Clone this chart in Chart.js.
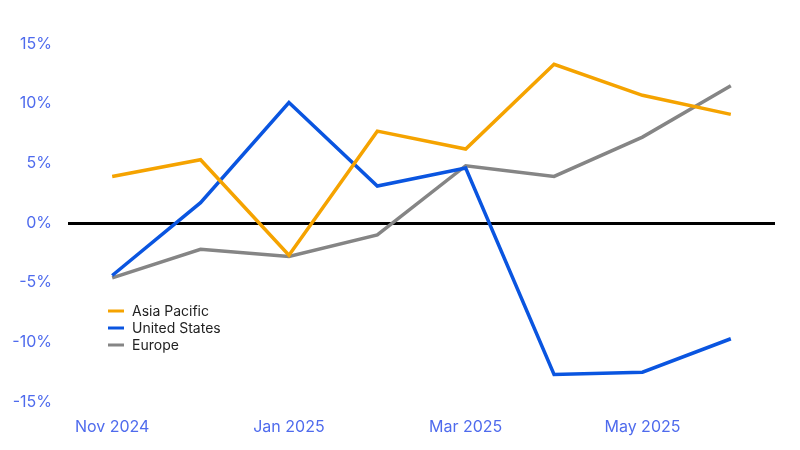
<!DOCTYPE html>
<html>
<head>
<meta charset="utf-8">
<script src="https://cdn.jsdelivr.net/npm/chart.js@4"></script>
<style>
  html, body { margin: 0; padding: 0; background: #fff; }
  #wrap { width: 800px; height: 450px; }
</style>
</head>
<body>
<div id="wrap"><canvas id="chart_regions"></canvas></div>
<script>
const months = ['Nov 2024', 'Dec 2024', 'Jan 2025', 'Feb 2025', 'Mar 2025', 'Apr 2025', 'May 2025', 'Jun 2025'];
const asiaPacific = [3.9, 5.3, -2.7, 7.7, 6.2, 13.3, 10.7, 9.1];
const unitedStates = [-4.4, 1.7, 10.1, 3.1, 4.6, -12.7, -12.5, -9.7];
const europe = [-4.6, -2.2, -2.8, -1.0, 4.8, 3.9, 7.2, 11.5];

const tickColor = '#4f6bed';

// legend sits inside the plot, lower left
const insideLegend = {
    id: 'insideLegend',
    afterDraw(chart) {
        const ctx = chart.ctx;
        ctx.save();
        ctx.font = '14px Inter, "Noto Sans", sans-serif';
        ctx.textBaseline = 'middle';
        chart.data.datasets.forEach((ds, i) => {
            const y = 311 + i * 17;
            ctx.strokeStyle = ds.borderColor;
            ctx.lineWidth = 3;
            ctx.beginPath();
            ctx.moveTo(108, y);
            ctx.lineTo(124, y);
            ctx.stroke();
            ctx.fillStyle = '#222';
            ctx.fillText(ds.label, 132, y + 1);
        });
        ctx.restore();
    }
};

new Chart(document.getElementById('chart_regions'), {
    type: 'line',
    data: {
        labels: months,
        datasets: [
            { label: 'Asia Pacific', data: asiaPacific, borderColor: '#f5a300', borderWidth: 3.5, pointRadius: 0, tension: 0 },
            { label: 'United States', data: unitedStates, borderColor: '#0a55e0', borderWidth: 3.5, pointRadius: 0, tension: 0 },
            { label: 'Europe', data: europe, borderColor: '#858585', borderWidth: 3.5, pointRadius: 0, tension: 0 }
        ]
    },
    options: {
        responsive: true,
        maintainAspectRatio: false,
        animation: false,
        layout: { padding: { top: 44, right: 25, left: 0, bottom: 0 } },
        scales: {
            x: {
                offset: true,
                grid: { display: false, drawTicks: false },
                border: { display: false },
                afterFit: (scale) => { scale.height = 48; },
                ticks: {
                    color: tickColor,
                    font: { size: 16, family: 'Inter, "Noto Sans", sans-serif' },
                    padding: 16,
                    autoSkip: false,
                    maxRotation: 0,
                    callback: function (value, index) {
                        return index % 2 === 0 ? this.getLabelForValue(value) : '';
                    }
                }
            },
            y: {
                min: -15,
                max: 15,
                afterFit: (scale) => { scale.width = 68; },
                border: { display: false },
                grid: {
                    drawTicks: false,
                    color: (c) => c.tick && c.tick.value === 0 ? '#000' : 'rgba(0,0,0,0)',
                    lineWidth: (c) => c.tick && c.tick.value === 0 ? 3 : 0
                },
                ticks: {
                    stepSize: 5,
                    color: tickColor,
                    font: { size: 16, family: 'Inter, "Noto Sans", sans-serif' },
                    padding: 16,
                    callback: function (value) {
                        return value + '%';
                    }
                }
            }
        },
        plugins: {
            legend: { display: false },
            tooltip: { enabled: false }
        }
    },
    plugins: [insideLegend]
});
</script>
</body>
</html>
